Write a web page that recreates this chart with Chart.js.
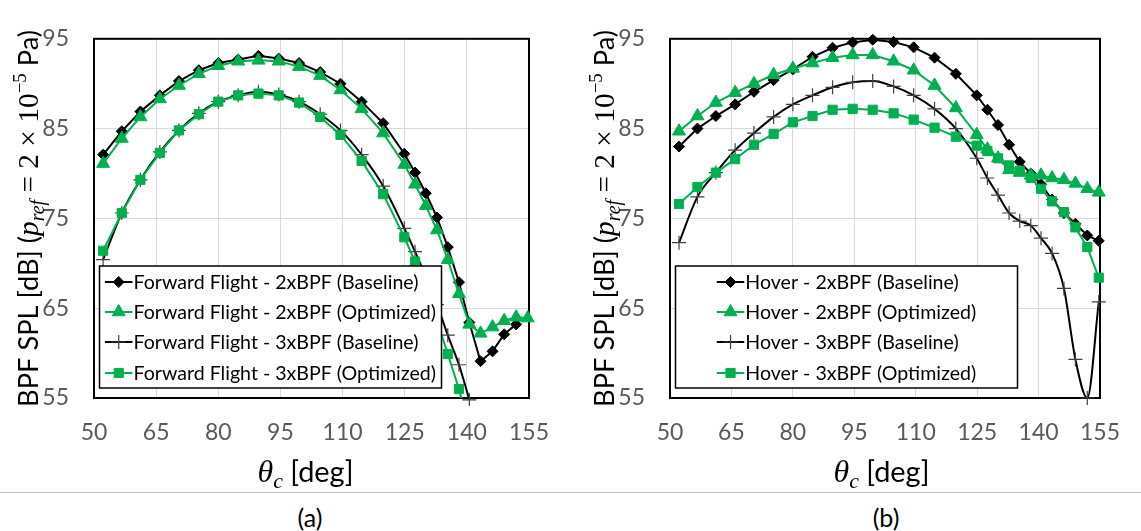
<!DOCTYPE html>
<html>
<head>
<meta charset="utf-8">
<script src="https://cdn.jsdelivr.net/npm/chart.js@4.4.1/dist/chart.umd.min.js"></script>
<style>
  html, body { margin: 0; padding: 0; background: #fff; }
  #wrap { position: relative; width: 1141px; height: 531px; overflow: hidden; font-family: Lato, sans-serif; }
  #left { position: absolute; left: 0; top: 0; }
  #right { position: absolute; left: 576px; top: 0; }
  #sep { position: absolute; left: 0; top: 492px; width: 1141px; height: 1px; background: #bfbfbf; }
  .cap { position: absolute; top: 502px; font-size: 25px; line-height: 30px; transform: translateX(-50%); color: #000; }
</style>
</head>
<body>
<div id="wrap">
  <canvas id="left" width="570" height="492"></canvas>
  <canvas id="right" width="565" height="492"></canvas>
  <div id="sep"></div>
  <div class="cap" style="left:310px">(a)</div>
  <div class="cap" style="left:886px">(b)</div>
</div>
<script>
// observer angles (deg)
const angles = [52.2, 56.7, 61.2, 65.9, 70.5, 75.3, 80.0, 84.8, 89.7, 94.6, 99.5, 104.6, 109.5, 114.6,
  119.8, 124.9, 127.5, 130.1, 132.8, 135.4, 138.1, 140.6, 143.3, 146.2, 149.0, 151.9, 154.7];

const xTicks = [50, 155, 15]; // min, max, step
const yTicks = [55, 95, 10];

// (a) forward flight
const ff2Base = [82.1, 84.7, 86.9, 88.7, 90.3, 91.5, 92.3, 92.7, 93.1, 92.8, 92.3, 91.3, 90.0, 88.0,
  85.6, 82.2, 80.1, 77.8, 75.1, 71.8, 67.9, 63.4, 59.1, 60.2, 62.1, 63.2];
const ff2Opt = [81.1, 83.9, 86.3, 88.3, 89.8, 91.1, 92.0, 92.5, 92.6, 92.5, 91.9, 90.9, 89.3, 87.2,
  84.5, 81.0, 78.8, 76.4, 73.7, 70.4, 66.6, 63.2, 62.2, 62.9, 63.6, 64.0, 63.9];
const ff3Base = [70.4, 75.6, 79.3, 82.4, 84.8, 86.7, 88.0, 88.7, 89.1, 88.8, 88.0, 86.6, 84.8, 82.1,
  78.6, 73.9, 71.3, 68.5, 65.4, 62.0, 58.7, 54.8];
const ff3Opt = [71.4, 75.6, 79.3, 82.3, 84.8, 86.6, 88.0, 88.7, 88.9, 88.7, 87.9, 86.3, 84.3, 81.4,
  77.7, 72.9, 70.2, 67.0, 63.6, 59.9, 56.0, 51.5];

// (b) hover
const hv2Base = [83.0, 85.0, 86.4, 87.7, 89.1, 90.4, 91.6, 93.0, 94.0, 94.6, 94.9, 94.65, 94.05, 92.9,
  91.1, 88.7, 87.1, 85.4, 83.2, 81.3, 80.0, 78.8, 77.1, 75.6, 74.4, 73.1, 72.5];
const hv2Opt = [84.7, 86.4, 87.9, 89.0, 90.0, 91.0, 91.7, 92.3, 92.9, 93.2, 93.2, 92.5, 91.5, 89.8,
  87.3, 84.3, 82.7, 81.7, 80.4, 80.1, 79.8, 79.8, 79.5, 79.3, 78.9, 78.3, 77.9];
const hv3Base = [72.3, 77.4, 80.1, 82.6, 84.5, 86.3, 87.7, 88.7, 89.6, 90.15, 90.3, 89.7, 88.7, 87.2,
  85.0, 81.7, 79.5, 77.6, 75.6, 74.7, 74.2, 72.8, 71.1, 67.2, 59.3, 55.0, 65.7];
const hv3Opt = [76.6, 78.5, 80.1, 81.6, 83.2, 84.4, 85.7, 86.4, 87.1, 87.2, 87.1, 86.7, 86.0, 85.1,
  84.1, 83.1, 82.5, 81.7, 80.9, 80.3, 79.5, 78.3, 76.9, 75.7, 74.0, 71.8, 68.4];

const GREEN = "#00b050";
const sans = "Lato, sans-serif";
const serif = '"Liberation Serif", serif';

function pts(vals) {
  return vals.map((v, i) => ({ x: angles[i], y: v }));
}

function makeDatasets(labels, series) {
  const looks = [
    { color: "#000", style: "rectRot", r: 5.5, pb: "#000", pw: 1 },
    { color: GREEN, style: "triangle", r: 7.5, pb: GREEN, pw: 1 },
    { color: "#000", style: "cross", r: 7, pb: "#404040", pw: 1.2 },
    { color: GREEN, style: "rect", r: 6.5, pb: GREEN, pw: 1 },
  ];
  return series.map((vals, i) => ({
    label: labels[i],
    data: pts(vals),
    borderColor: looks[i].color,
    backgroundColor: looks[i].color,
    borderWidth: 2,
    pointStyle: looks[i].style,
    pointRadius: looks[i].r,
    pointBorderColor: looks[i].pb,
    pointBackgroundColor: looks[i].color,
    pointBorderWidth: looks[i].pw,
    showLine: true,
    tension: i === 2 ? 0.4 : 0,
    cubicInterpolationMode: i === 2 ? "monotone" : "default",
    clip: { left: 10, top: 10, right: 10, bottom: i === 2 ? 8 : 0 },
    order: 3 - i,
  }));
}

function drawRich(ctx, parts, x, y) {
  let cx = x;
  parts.forEach((p) => {
    ctx.font = p.font;
    ctx.fillText(p.t, cx, y + (p.dy || 0));
    cx += ctx.measureText(p.t).width;
  });
}
function richWidth(ctx, parts) {
  let w = 0;
  parts.forEach((p) => { ctx.font = p.font; w += ctx.measureText(p.t).width; });
  return w;
}

const yTitle = [
  { t: "BPF SPL [dB] (", font: `26px ${sans}` },
  { t: "p", font: `italic 28px ${serif}` },
  { t: "ref", font: `italic 19px ${serif}`, dy: 6 },
  { t: " = 2 × 10", font: `28px ${serif}` },
  { t: "−5", font: `18px ${serif}`, dy: -11 },
  { t: " Pa)", font: `26px ${sans}` },
];
const xTitle = [
  { t: "θ", font: `italic 32px ${serif}` },
  { t: "c", font: `italic 22px ${serif}`, dy: 6 },
  { t: " [deg]", font: `29px ${sans}` },
];

// titles, plot border and legend box drawn by hand (like in Excel)
const decor = {
  id: "decor",
  beforeDatasetsDraw(chart) {
    const a = chart.chartArea;
    const ctx = chart.ctx;
    ctx.save();
    ctx.strokeStyle = "#000";
    ctx.lineWidth = 2;
    ctx.strokeRect(a.left, a.top, a.right - a.left, a.bottom - a.top);
    ctx.restore();
  },
  afterDatasetsDraw(chart) {
    const ctx = chart.ctx;
    ctx.save();
    ctx.fillStyle = "#000";
    ctx.textBaseline = "alphabetic";

    // y title, rotated
    let w = richWidth(ctx, yTitle);
    let s = 377 / w;
    ctx.save();
    ctx.translate(38, 407);
    ctx.rotate(-Math.PI / 2);
    ctx.scale(s, s);
    drawRich(ctx, yTitle, 0, 0);
    ctx.restore();

    // x title
    w = richWidth(ctx, xTitle);
    s = 96 / w;
    ctx.save();
    ctx.translate(305.5 - 48, 482);
    ctx.scale(s, s);
    drawRich(ctx, xTitle, 0, 0);
    ctx.restore();

    // legend
    const box = { x: 99.5, y: 266, w: 342, h: 122 };
    ctx.fillStyle = "#fff";
    ctx.fillRect(box.x, box.y, box.w, box.h);
    ctx.strokeStyle = "#000";
    ctx.lineWidth = 1.5;
    ctx.strokeRect(box.x, box.y, box.w, box.h);

    ctx.font = `19px ${sans}`;
    const sx = 285 / ctx.measureText("Forward Flight - 2xBPF (Baseline)").width;
    const dsets = chart.data.datasets;
    const maxW = Math.max(...dsets.map((d) => ctx.measureText(d.label).width)) * sx;
    const sampleW = 27.5;
    const x0 = box.x + box.w / 2 - (sampleW + 1 + maxW) / 2;
    const rows = [282, 312, 342, 373];
    dsets.forEach((d, i) => {
      const y = rows[i];
      ctx.strokeStyle = d.borderColor;
      ctx.lineWidth = 2;
      ctx.beginPath();
      ctx.moveTo(x0, y);
      ctx.lineTo(x0 + sampleW, y);
      ctx.stroke();
      ctx.fillStyle = d.pointBackgroundColor;
      ctx.strokeStyle = d.pointBorderColor;
      ctx.lineWidth = d.pointBorderWidth;
      Chart.helpers.drawPoint(ctx, { pointStyle: d.pointStyle, radius: d.pointRadius, rotation: 0, borderWidth: d.pointBorderWidth },
        x0 + sampleW / 2, y);
      ctx.save();
      ctx.fillStyle = "#000";
      ctx.font = `19px ${sans}`;
      ctx.textBaseline = "middle";
      ctx.translate(x0 + sampleW + 1, y + 1);
      ctx.scale(sx, 1);
      ctx.fillText(d.label, 0, 0);
      ctx.restore();
    });
    ctx.restore();
  },
};

function makeChart(id, labels, series, canvasW) {
  const tickFont = { family: "Lato", size: 23 };
  return new Chart(document.getElementById(id), {
    type: "scatter",
    data: { datasets: makeDatasets(labels, series) },
    options: {
      responsive: false,
      animation: false,
      layout: { padding: { left: 0, top: 21, right: canvasW - 540, bottom: 0 } },
      scales: {
        x: {
          type: "linear",
          min: xTicks[0],
          max: xTicks[1],
          ticks: { stepSize: xTicks[2], font: tickFont, color: "#595959", padding: 21, maxRotation: 0 },
          grid: { color: "#d9d9d9", lineWidth: 1, drawTicks: false },
          border: { display: false },
          afterFit(sc) { sc.height = 94; },
        },
        y: {
          min: yTicks[0],
          max: yTicks[1],
          ticks: { stepSize: yTicks[2], font: tickFont, color: "#595959", padding: 25 },
          grid: { color: "#d9d9d9", lineWidth: 1, drawTicks: false },
          border: { display: false },
          afterFit(sc) { sc.width = 94; },
        },
      },
      plugins: { legend: { display: false }, tooltip: { enabled: false } },
    },
    plugins: [decor],
  });
}

makeChart("left", [
  "Forward Flight - 2xBPF (Baseline)",
  "Forward Flight - 2xBPF (Optimized)",
  "Forward Flight - 3xBPF (Baseline)",
  "Forward Flight - 3xBPF (Optimized)",
], [ff2Base, ff2Opt, ff3Base, ff3Opt], 570);

makeChart("right", [
  "Hover - 2xBPF (Baseline)",
  "Hover - 2xBPF (Optimized)",
  "Hover - 3xBPF (Baseline)",
  "Hover - 3xBPF (Optimized)",
], [hv2Base, hv2Opt, hv3Base, hv3Opt], 565);
</script>
</body>
</html>
